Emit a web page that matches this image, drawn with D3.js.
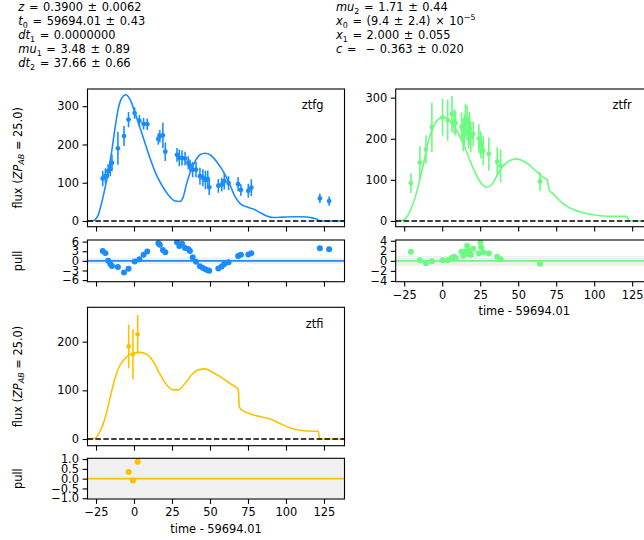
<!DOCTYPE html>
<html><head><meta charset="utf-8">
<script src="https://cdn.jsdelivr.net/npm/d3@7"></script>
<style>
body{margin:0;background:#fff;}
svg{display:block;font-family:"DejaVu Sans",sans-serif;}
text{white-space:pre;}
</style></head><body>
<svg id="c" width="644" height="540"></svg>
<script>
// ---------------- data ----------------
const xTicks = [-25, 0, 25, 50, 75, 100, 125];
const xDomain = [-30.6, 138.5];

const ztfgTime = [-20.6, -18.8, -17.0, -15.6, -14.5, -10.6, -6.6, -3.6, 0.4, 3.5, 6.3, 8.7, 16.0, 17.0, 19.0, 20.6, 28.3, 29.8, 31.6, 33.6, 35.7, 36.8, 38.6, 40.8, 43.4, 45.3, 47.0, 48.5, 49.5, 55.5, 57.7, 59.4, 62.2, 68.5, 70.3, 75.2, 77.2, 122.3, 128.4];
const ztfgFlux = [111, 118, 130, 137, 152, 190, 222, 265, 282, 262, 254, 253, 214, 222, 224, 181, 173, 165, 165, 163, 152, 145, 134, 134, 117, 113, 107, 110, 88, 92, 95, 104, 99, 96, 81, 79, 87, 59, 52];
const ztfgErr  = [20, 20, 18, 20, 22, 43, 26, 20, 15, 15, 15, 15, 15, 16, 33, 24, 18, 22, 20, 18, 17, 16, 20, 20, 22, 22, 24, 22, 20, 18, 18, 22, 18, 18, 15, 18, 22, 12, 12];
const ztfgPull = [3.1, 2.4, 0.0, -1.0, -1.6, -1.9, -3.6, -2.5, -0.2, 0.5, 1.9, 2.9, 5.5, 5.0, 3.4, 2.7, 5.8, 4.6, 5.3, 4.0, 3.7, 3.1, 1.1, -0.3, -1.7, -2.2, -2.6, -2.9, -3.1, -2.4, -1.8, -1.0, -0.4, 1.5, 1.9, 2.0, 2.4, 3.9, 3.6];
const ztfgModelTime = [-30.6, -27, -25.7, -23.5, -21.5, -19.1, -16.9, -14.7, -12.5, -10.3, -8.1, -5.5, -3.7, -1.5, 0.7, 5.1, 9.4, 13.8, 18.2, 22.6, 27, 30.3, 32.4, 34.7, 36.8, 40.1, 43.4, 46.7, 50, 54.4, 58.8, 63.2, 66.4, 69.7, 74.1, 78.5, 82.9, 87.3, 91.7, 98, 105, 111, 116, 120, 122.4, 138.5];
const ztfgModelFlux = [0, 0.5, 3, 16, 44, 86, 129, 181, 243, 295, 321, 330, 325, 308, 282, 230, 177, 129, 94, 68, 52, 51, 63, 99, 125, 155, 173, 177, 173, 155, 129, 94, 64, 46, 37, 31, 22, 13, 9, 10, 11, 11, 9, 5, 0, 0];

const ztfrTime = [-20.6, -14.7, -10.7, -6.8, 0.2, 3.6, 6.4, 7.8, 8.8, 12.7, 13.8, 14.6, 15.3, 16.4, 17.2, 18.0, 18.8, 20.4, 24.1, 25.2, 25.6, 27.0, 30.7, 36.2, 38.4, 64.3];
const ztfrFlux = [92, 142, 174, 228, 252, 245, 260, 242, 238, 229, 210, 222, 245, 238, 215, 225, 205, 212, 200, 190, 182, 171, 163, 144, 134, 96];
const ztfrErr  = [24, 40, 34, 60, 45, 50, 44, 30, 30, 35, 40, 38, 40, 42, 40, 40, 38, 30, 35, 28, 30, 35, 40, 35, 40, 23];
const ztfrPull = [1.8, 0.1, -0.5, -0.1, 0.1, 0.1, 0.6, 0.8, 0.6, 1.8, 1.0, 1.6, 1.9, 3.0, 1.4, 2.0, 1.2, 2.4, 1.5, 3.7, 2.7, 1.7, 1.5, 0.8, 0.3, -0.6];
const ztfrModelTime = [-30.6, -25.7, -22.4, -19.1, -15.8, -12.5, -9.2, -5.9, -2.6, 0.7, 3.9, 7.2, 11.6, 16, 20.4, 24.8, 29.2, 32.5, 35.7, 40.1, 44.5, 48.9, 53.3, 57.7, 62.1, 66.4, 69.1, 70.4, 73, 77.4, 81.8, 86.2, 92.8, 99.3, 105.9, 112.5, 121.3, 122.4, 123.5, 138.5];
const ztfrModelFlux = [0, 2, 15, 43, 84, 136, 193, 229, 247, 252, 247, 233, 205, 169, 128, 96, 82, 88, 108, 134, 147, 151, 146, 135, 120, 106, 100, 75, 66, 49, 36, 28, 20, 15, 12, 11, 11, 4, 0, 0];

const ztfiTime = [-3.5, -0.7, 2.4];
const ztfiFlux = [190, 174, 215];
const ztfiErr  = [45, 51, 40];
const ztfiPull = [0.34, -0.1, 0.86];
const ztfiModelTime = [-30.6, -25.7, -22.4, -19.1, -15.8, -12.5, -9.2, -4.8, -0.4, 3.9, 8.3, 12.7, 17.1, 21.5, 25.9, 29.2, 33.6, 38, 42.3, 46.7, 51.1, 56.6, 63.2, 68.6, 69.3, 70.8, 75.2, 82.9, 89.5, 96, 102.6, 109.2, 118, 121.3, 122.2, 138.5];
const ztfiModelFlux = [0, 1, 15, 42, 84, 125, 152, 169, 176, 178, 174, 159, 133, 111, 101, 101, 114, 132, 142, 144, 138, 128, 114, 101, 66, 60, 53, 46, 41, 32, 23, 18, 16, 16, 0, 0];

const bands = ['ztfg', 'ztfr', 'ztfi'];
const bandColors = ['#1a8cff', '#6cfa80', '#fcc200'];
const fluxTicks = [[0, 100, 200, 300], [0, 100, 200, 300], [0, 100, 200]];
const pullTicks = [[6, 3, 0, -3, -6], [4, 2, 0, -2, -4], [1, 0.5, 0, -0.5, -1]];

const paramsLeft = [
  [{t:'z',it:1},{t:' = 0.3900 ± 0.0062'}],
  [{t:'t',it:1},{t:'0',sub:1},{t:' = 59694.01 ± 0.43'}],
  [{t:'dt',it:1},{t:'1',sub:1},{t:' = 0.0000000'}],
  [{t:'mu',it:1},{t:'1',sub:1},{t:' = 3.48 ± 0.89'}],
  [{t:'dt',it:1},{t:'2',sub:1},{t:' = 37.66 ± 0.66'}]
];
const paramsRight = [
  [{t:'mu',it:1},{t:'2',sub:1},{t:' = 1.71 ± 0.44'}],
  [{t:'x',it:1},{t:'0',sub:1},{t:' = (9.4 ± 2.4) × 10'},{t:'−5',sup:1}],
  [{t:'x',it:1},{t:'1',sub:1},{t:' = 2.000 ± 0.055'}],
  [{t:'c',it:1},{t:' =  − 0.363 ± 0.020'}]
];

// ---------------- layout ----------------
const FS = 11.4;
const svg = d3.select('#c');
const defs = svg.append('defs');

const layout = [
  {x0:87.5, x1:344.5, top:89, bottom:226.7, pTop:240, pBottom:281.7, yDom:[-15,345], pDom:[-6.5,6.5], pFmt:d3.format('d'), xLabels:false, yLabel:true},
  {x0:395.7, x1:652.7, top:89, bottom:226.7, pTop:240, pBottom:281.7, yDom:[-14,321], pDom:[-4.15,4.15], pFmt:d3.format('d'), xLabels:true, yLabel:false},
  {x0:87.5, x1:344.5, top:307.3, bottom:445.7, pTop:458.3, pBottom:499, yDom:[-13.8,270.6], pDom:[-1.04,1.04], pFmt:d3.format('.1f'), xLabels:true, yLabel:true}
];
const dataSets = [
  {t:ztfgTime, f:ztfgFlux, e:ztfgErr, p:ztfgPull, mt:ztfgModelTime, mf:ztfgModelFlux},
  {t:ztfrTime, f:ztfrFlux, e:ztfrErr, p:ztfrPull, mt:ztfrModelTime, mf:ztfrModelFlux},
  {t:ztfiTime, f:ztfiFlux, e:ztfiErr, p:ztfiPull, mt:ztfiModelTime, mf:ztfiModelFlux}
];

function styleAxis(g) {
  g.attr('font-size', FS).attr('font-family', '"DejaVu Sans", sans-serif');
  g.select('.domain').remove();
  g.selectAll('.tick line').attr('stroke', '#000').attr('stroke-width', 1.1);
  g.selectAll('.tick text').attr('fill', '#000');
}

function frame(x0, x1, y0, y1) {
  svg.append('rect').attr('x', x0).attr('y', y0).attr('width', x1 - x0).attr('height', y1 - y0)
    .attr('fill', 'none').attr('stroke', '#000').attr('stroke-width', 1.1);
}

layout.forEach((L, i) => {
  const D = dataSets[i];
  const col = bandColors[i];
  const x = d3.scaleLinear().domain(xDomain).range([L.x0, L.x1]);
  const y = d3.scaleLinear().domain(L.yDom).range([L.bottom, L.top]);
  const yp = d3.scaleLinear().domain(L.pDom).range([L.pBottom, L.pTop]);

  defs.append('clipPath').attr('id', 'cm' + i).append('rect')
    .attr('x', L.x0).attr('y', L.top).attr('width', L.x1 - L.x0).attr('height', L.bottom - L.top);
  defs.append('clipPath').attr('id', 'cp' + i).append('rect')
    .attr('x', L.x0).attr('y', L.pTop).attr('width', L.x1 - L.x0).attr('height', L.pBottom - L.pTop);

  // main panel
  const gm = svg.append('g').attr('clip-path', `url(#cm${i})`);
  const model = D.mt.map((t, k) => [t, D.mf[k]]);
  gm.append('path').datum(model)
    .attr('d', d3.line().x(d => x(d[0])).y(d => y(d[1])).curve(d3.curveMonotoneX))
    .attr('fill', 'none').attr('stroke', col).attr('stroke-width', 1.6);
  const pts = D.t.map((t, k) => ({t, f:D.f[k], e:D.e[k], p:D.p[k]}));
  gm.selectAll('line.err').data(pts).join('line')
    .attr('x1', d => x(d.t)).attr('x2', d => x(d.t))
    .attr('y1', d => y(d.f - d.e)).attr('y2', d => y(d.f + d.e))
    .attr('stroke', col).attr('stroke-width', 1.6);
  gm.selectAll('circle.pt').data(pts).join('circle')
    .attr('cx', d => x(d.t)).attr('cy', d => y(d.f)).attr('r', 2.4).attr('fill', col);
  gm.append('line').attr('x1', L.x0).attr('x2', L.x1).attr('y1', y(0)).attr('y2', y(0))
    .attr('stroke', '#000').attr('stroke-width', 1.6).attr('stroke-dasharray', '5.5,2.4');
  frame(L.x0, L.x1, L.top, L.bottom);

  svg.append('g').attr('transform', `translate(${L.x0},0)`)
    .call(d3.axisLeft(y).tickValues(fluxTicks[i]).tickFormat(d3.format('d')).tickSize(4.9).tickPadding(3.6))
    .call(styleAxis);
  svg.append('g').attr('transform', `translate(0,${L.bottom})`)
    .call(d3.axisBottom(x).tickValues(xTicks).tickFormat('').tickSize(4.9))
    .call(styleAxis);

  svg.append('text').attr('x', L.x0 + 0.918 * (L.x1 - L.x0)).attr('y', L.top + 20.3)
    .attr('text-anchor', 'end').attr('font-size', FS).text(bands[i]);

  // pull panel
  const gp = svg.append('g').attr('clip-path', `url(#cp${i})`);
  gp.append('rect').attr('x', L.x0).attr('width', L.x1 - L.x0)
    .attr('y', yp(1)).attr('height', yp(-1) - yp(1)).attr('fill', '#f0f0f0');
  gp.append('line').attr('x1', L.x0).attr('x2', L.x1).attr('y1', yp(0)).attr('y2', yp(0))
    .attr('stroke', col).attr('stroke-width', 1.6);
  gp.selectAll('circle').data(pts).join('circle')
    .attr('cx', d => x(d.t)).attr('cy', d => yp(d.p)).attr('r', 3).attr('fill', col);
  frame(L.x0, L.x1, L.pTop, L.pBottom);

  svg.append('g').attr('transform', `translate(${L.x0},0)`)
    .call(d3.axisLeft(yp).tickValues(pullTicks[i]).tickFormat(L.pFmt).tickSize(4.9).tickPadding(3.6))
    .call(styleAxis);
  const xa = d3.axisBottom(x).tickValues(xTicks).tickSize(4.9).tickPadding(4.2);
  if (!L.xLabels) xa.tickFormat('');
  svg.append('g').attr('transform', `translate(0,${L.pBottom})`).call(xa).call(styleAxis);

  if (L.xLabels) {
    svg.append('text').attr('x', (L.x0 + L.x1) / 2).attr('y', L.pBottom + 33.5)
      .attr('text-anchor', 'middle').attr('font-size', FS).text('time - 59694.01');
  }
  if (L.yLabel) {
    const fl = svg.append('text').attr('transform', `translate(21.5,${(L.top + L.bottom) / 2}) rotate(-90)`)
      .attr('text-anchor', 'middle').attr('font-size', FS);
    fl.append('tspan').text('flux (');
    fl.append('tspan').attr('font-style', 'italic').text('ZP');
    fl.append('tspan').attr('font-style', 'italic').attr('font-size', FS * 0.7).attr('dy', 2.6).text('AB');
    fl.append('tspan').attr('dy', -2.6).text(' = 25.0)');
    svg.append('text').attr('transform', `translate(21.5,${(L.pTop + L.pBottom) / 2}) rotate(-90)`)
      .attr('text-anchor', 'middle').attr('font-size', FS).text('pull');
  }
});

// header parameter text
function writeLines(lines, x0, y0) {
  lines.forEach((segs, li) => {
    const t = svg.append('text').attr('x', x0).attr('y', y0 + li * 14).attr('font-size', FS)
      .attr('word-spacing', 1);
    let shift = 0;
    segs.forEach(s => {
      const sp = t.append('tspan').text(s.t);
      if (s.it) sp.attr('font-style', 'italic');
      let target = 0;
      if (s.sub) { sp.attr('font-size', FS * 0.7); target = 2.8; }
      if (s.sup) { sp.attr('font-size', FS * 0.7); target = -4.5; }
      if (target !== shift) { sp.attr('dy', target - shift); shift = target; }
    });
  });
}
writeLines(paramsLeft, 18.3, 10.7);
writeLines(paramsRight, 336, 10.7);
</script>
</body></html>
